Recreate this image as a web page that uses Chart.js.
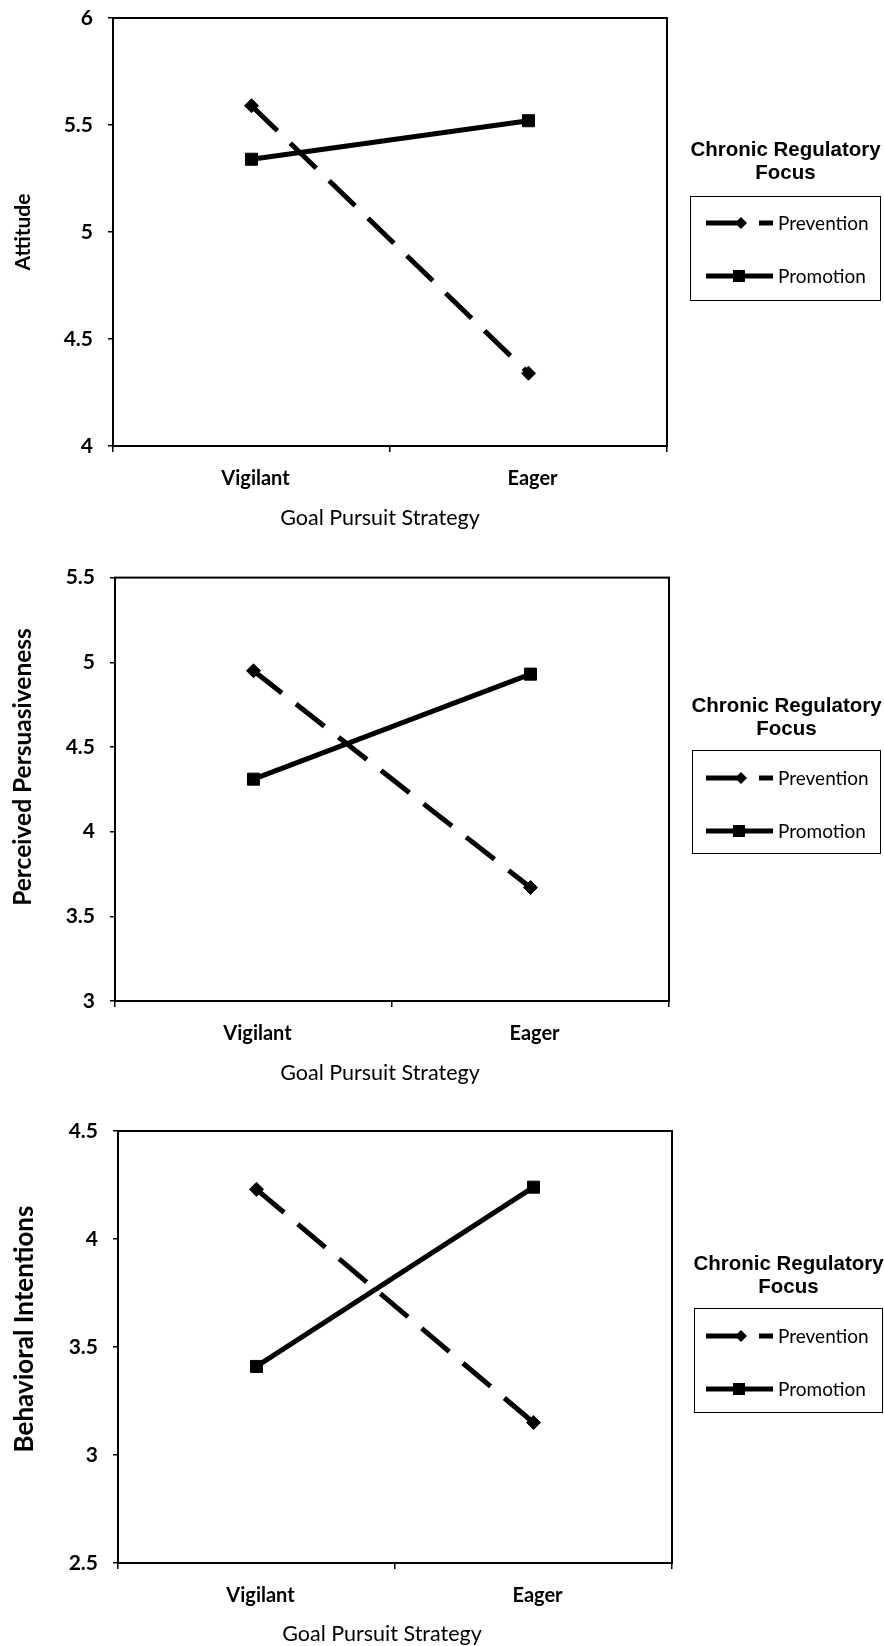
<!DOCTYPE html>
<html>
<head>
<meta charset="utf-8">
<script src="https://cdn.jsdelivr.net/npm/chart.js@4/dist/chart.umd.min.js"></script>
<style>
html,body{margin:0;padding:0;background:#fff;}
body{width:884px;height:1646px;position:relative;overflow:hidden;}
canvas{position:absolute;left:0;}
.ltitle{position:absolute;width:220px;text-align:center;font-family:"Liberation Sans",Arial,sans-serif;font-weight:bold;font-size:20.5px;line-height:23px;color:#000;}
.lbox{position:absolute;border:1.5px solid #000;box-sizing:border-box;background:#fff;}
.lrow{position:absolute;left:0;width:100%;height:30px;}
.lrow svg{position:absolute;left:0;top:0;}
.lrow span{position:absolute;font-family:Lato,"Open Sans",sans-serif;font-size:19px;line-height:30px;top:0;color:#000;}
</style>
</head>
<body>
<canvas id="c1"></canvas>
<canvas id="c2"></canvas>
<canvas id="c3"></canvas>
<script>
// ---- data ----
const categories = ['Vigilant', 'Eager'];
const seriesNames = ['Prevention', 'Promotion'];
const legendTitle = ['Chronic Regulatory', 'Focus'];
const xTitle = 'Goal Pursuit Strategy';

const attitudeTitle = 'Attitude';
const attitudeTicks = [4, 4.5, 5, 5.5, 6];
const attitudePrevention = [5.59, 4.34];
const attitudePromotion = [5.34, 5.52];

const persuasionTitle = 'Perceived Persuasiveness';
const persuasionTicks = [3, 3.5, 4, 4.5, 5, 5.5];
const persuasionPrevention = [4.95, 3.67];
const persuasionPromotion = [4.31, 4.93];

const intentionsTitle = 'Behavioral Intentions';
const intentionsTicks = [2.5, 3, 3.5, 4, 4.5];
const intentionsPrevention = [4.23, 3.15];
const intentionsPromotion = [3.41, 4.24];

// ---- layout (pixels) ----
const panels = [
  {id:'c1', top:-12, height:557, area:{left:113, right:667, top:18, bottom:446},
   xTitleX:380, xTitleY:518,
   yTitle:attitudeTitle, yTitleX:23, yTitleY:232, yTitleSize:21,
   ticks:attitudeTicks, prev:attitudePrevention, prom:attitudePromotion,
   legend:{t1:148, box:{left:690, top:196, right:881, bottom:301}, rows:[222,275]}},
  {id:'c2', top:550, height:545, area:{left:115, right:669, top:575, bottom:1001},
   xTitleX:380, xTitleY:1073,
   yTitle:persuasionTitle, yTitleX:23, yTitleY:767, yTitleSize:24.5,
   ticks:persuasionTicks, prev:persuasionPrevention, prom:persuasionPromotion,
   legend:{t1:704, box:{left:692, top:750, right:881, bottom:854}, rows:[777,830]}},
  {id:'c3', top:1100, height:546, area:{left:118, right:672, top:1131, bottom:1563},
   xTitleX:382, xTitleY:1634,
   yTitle:intentionsTitle, yTitleX:25, yTitleY:1329, yTitleSize:26,
   ticks:intentionsTicks, prev:intentionsPrevention, prom:intentionsPromotion,
   legend:{t1:1262, box:{left:694, top:1308, right:883, bottom:1413}, rows:[1335,1388]}}
];

const boxPlugin = {
  id:'box',
  afterDraw(chart){
    const a = chart.chartArea, ctx = chart.ctx;
    ctx.save();
    ctx.strokeStyle = '#000';
    ctx.lineWidth = 2;
    ctx.strokeRect(a.left, a.top, a.right - a.left, a.bottom - a.top);
    ctx.restore();
  }
};

// axis titles drawn at the picture's (slightly off-centre) positions
const axisTitlePlugin = {
  id:'axisTitles',
  afterDraw(chart, args, opts){
    const ctx = chart.ctx;
    ctx.save();
    ctx.fillStyle = '#000';
    ctx.textAlign = 'center';
    ctx.textBaseline = 'middle';
    // x title
    ctx.font = `normal ${opts.xSize}px Lato, "Open Sans", sans-serif`;
    ctx.fillText(opts.xText, opts.xx, opts.xy);
    // y title
    ctx.translate(opts.yx, opts.yy);
    ctx.rotate(-Math.PI/2);
    ctx.font = `bold ${opts.ySize}px Lato, "Open Sans", sans-serif`;
    ctx.fillText(opts.yText, 0, 0);
    ctx.restore();
  }
};

const tickFont = {family:'Lato, "Open Sans", sans-serif', size:20, weight:'bold'};
const yTickFont = {family:'Lato, "Open Sans", sans-serif', size:21, weight:'bold'};

panels.forEach(p => {
  const cv = document.getElementById(p.id);
  cv.width = 884; cv.height = p.height;
  cv.style.top = p.top + 'px';
  cv.style.width = '884px'; cv.style.height = p.height + 'px';
  const padTop = p.area.top - p.top;
  const xAxisH = p.top + p.height - p.area.bottom;
  new Chart(cv.getContext('2d'), {
    type:'line',
    data:{
      labels:categories,
      datasets:[
        {label:seriesNames[0], data:p.prev, borderColor:'#000', backgroundColor:'#000',
         borderWidth:5, borderDash:[36,18], borderCapStyle:'butt', tension:0,
         pointStyle:'rectRot', pointRadius:7, pointBorderWidth:1, pointBackgroundColor:'#000', pointBorderColor:'#000'},
        {label:seriesNames[1], data:p.prom, borderColor:'#000', backgroundColor:'#000',
         borderWidth:5, tension:0,
         pointStyle:'rect', pointRadius:8.5, pointBorderWidth:1, pointBackgroundColor:'#000', pointBorderColor:'#000'}
      ]
    },
    options:{
      responsive:false, animation:false, devicePixelRatio:1,
      layout:{padding:{top:padTop, left:0, right:884 - p.area.right, bottom:0}},
      plugins:{
        legend:{display:false}, tooltip:{enabled:false},
        axisTitles:{xText:xTitle, xx:p.xTitleX, xy:p.xTitleY - p.top, xSize:21.5,
                    yText:p.yTitle, yx:p.yTitleX, yy:p.yTitleY - p.top, ySize:p.yTitleSize}
      },
      scales:{
        x:{
          type:'category', offset:true,
          grid:{display:true, offset:true, drawOnChartArea:false, drawTicks:true, tickLength:6, color:'#000', lineWidth:1.5},
          border:{display:false},
          ticks:{color:'#000', font:tickFont, padding:15, maxRotation:0, labelOffset:4},
          title:{display:false},
          afterFit(scale){ scale.height = xAxisH; }
        },
        y:{
          type:'linear', min:p.ticks[0], max:p.ticks[p.ticks.length-1],
          afterBuildTicks(scale){ scale.ticks = p.ticks.map(v => ({value:v})); },
          grid:{display:true, drawOnChartArea:false, drawTicks:true, tickLength:5, color:'#000', lineWidth:1.5},
          border:{display:false},
          ticks:{color:'#000', font:yTickFont, padding:15, callback:v => String(v)},
          title:{display:false},
          afterFit(scale){ scale.width = p.area.left; }
        }
      }
    },
    plugins:[boxPlugin, axisTitlePlugin]
  });

  // legend (HTML)
  const L = p.legend;
  const t = document.createElement('div');
  t.className = 'ltitle';
  t.style.left = ((L.box.left + L.box.right)/2 - 110) + 'px';
  t.style.top = (L.t1 - 11.5) + 'px';
  t.innerHTML = legendTitle.join('<br>');
  document.body.appendChild(t);

  const box = document.createElement('div');
  box.className = 'lbox';
  box.style.left = L.box.left + 'px';
  box.style.top = L.box.top + 'px';
  box.style.width = (L.box.right - L.box.left) + 'px';
  box.style.height = (L.box.bottom - L.box.top) + 'px';
  document.body.appendChild(box);

  seriesNames.forEach((name, i) => {
    const row = document.createElement('div');
    row.className = 'lrow';
    row.style.top = (L.rows[i] - L.box.top - 15) + 'px';
    const x0 = 705 - L.box.left;
    let svg;
    if (i === 0) {
      const dx = 740 - L.box.left;
      svg = `<svg width="110" height="30"><line x1="${x0}" y1="15" x2="${dx}" y2="15" stroke="#000" stroke-width="5"/>` +
            `<polygon points="${dx-6},15 ${dx},9 ${dx+6},15 ${dx},21" fill="#000"/>` +
            `<line x1="${758-L.box.left}" y1="15" x2="${772-L.box.left}" y2="15" stroke="#000" stroke-width="5"/></svg>`;
    } else {
      const sx = 738 - L.box.left;
      svg = `<svg width="110" height="30"><line x1="${x0}" y1="15" x2="${772-L.box.left}" y2="15" stroke="#000" stroke-width="5"/>` +
            `<rect x="${sx-6}" y="9" width="12" height="12" fill="#000"/></svg>`;
    }
    row.innerHTML = svg + `<span style="left:${777 - L.box.left}px">${name}</span>`;
    box.appendChild(row);
  });
});
</script>
</body>
</html>
